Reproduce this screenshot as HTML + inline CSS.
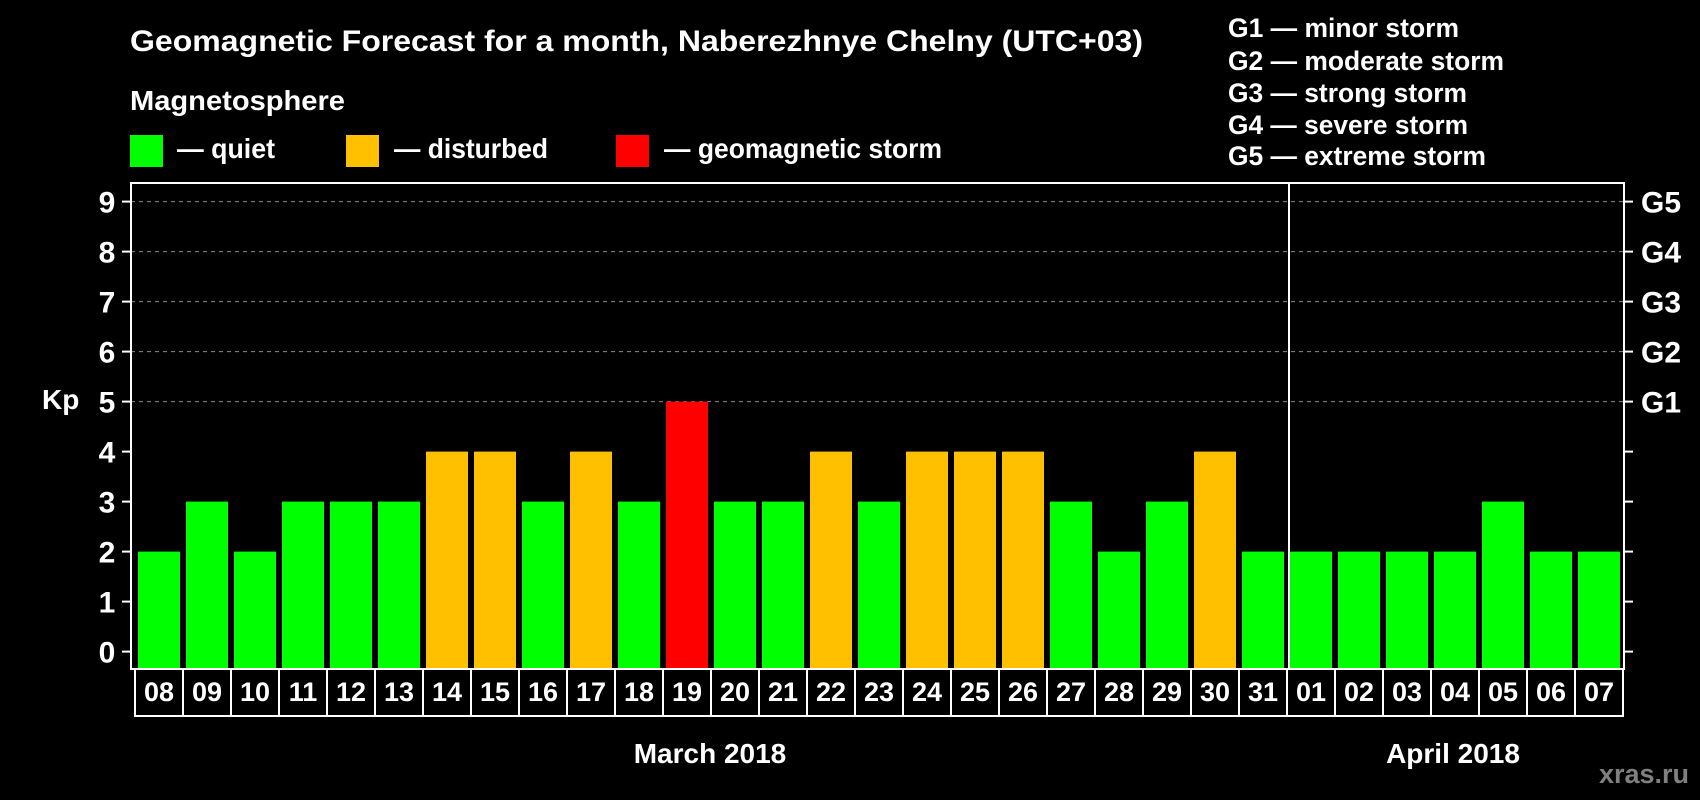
<!DOCTYPE html>
<html><head><meta charset="utf-8"><style>
html,body{margin:0;padding:0;background:#000;}
svg{display:block;font-family:"Liberation Sans",Arial,sans-serif;font-weight:bold;}
</style></head><body>
<svg id="chart" width="1700" height="800" viewBox="0 0 1700 800" xmlns="http://www.w3.org/2000/svg">
<rect x="0" y="0" width="1700" height="800" fill="#000"/>
<text x="130" y="51" fill="#fff" font-size="30" textLength="1013" lengthAdjust="spacingAndGlyphs">Geomagnetic Forecast for a month, Naberezhnye Chelny (UTC+03)</text>
<text x="130" y="110" fill="#fff" font-size="28" textLength="215" lengthAdjust="spacingAndGlyphs">Magnetosphere</text>
<g>
<rect x="130" y="135" width="33" height="32" fill="#00ff00"/>
<text x="177" y="158" fill="#fff" font-size="28" textLength="98" lengthAdjust="spacingAndGlyphs">— quiet</text></g>
<g>
<rect x="346" y="135" width="33" height="32" fill="#ffc000"/>
<text x="394" y="158" fill="#fff" font-size="28" textLength="154" lengthAdjust="spacingAndGlyphs">— disturbed</text></g>
<g>
<rect x="616" y="135" width="33" height="32" fill="#ff0000"/>
<text x="664" y="158" fill="#fff" font-size="28" textLength="278" lengthAdjust="spacingAndGlyphs">— geomagnetic storm</text></g>
<g fill="#fff" font-size="27">
<text x="1228" y="37" textLength="231" lengthAdjust="spacingAndGlyphs">G1 — minor storm</text>
<text x="1228" y="70" textLength="276" lengthAdjust="spacingAndGlyphs">G2 — moderate storm</text>
<text x="1228" y="102" textLength="239" lengthAdjust="spacingAndGlyphs">G3 — strong storm</text>
<text x="1228" y="134" textLength="240" lengthAdjust="spacingAndGlyphs">G4 — severe storm</text>
<text x="1228" y="165" textLength="258" lengthAdjust="spacingAndGlyphs">G5 — extreme storm</text>
</g>
<g id="grid"></g>
<g id="bars"></g>
<g id="axes"></g>
<g id="xlabels"></g>
<text x="42" y="409" fill="#fff" font-size="28">Kp</text>
<text x="710" y="763" fill="#fff" font-size="28" text-anchor="middle">March 2018</text>
<text x="1453" y="763" fill="#fff" font-size="28" text-anchor="middle">April 2018</text>
<text x="1689" y="783" fill="#808080" font-size="27" text-anchor="end">xras.ru</text>
</svg>
<script>
const days = ["08","09","10","11","12","13","14","15","16","17","18","19","20","21","22","23","24","25","26","27","28","29","30","31","01","02","03","04","05","06","07"];
const kpValues = [2,3,2,3,3,3,4,4,3,4,3,5,3,3,4,3,4,4,4,3,2,3,4,2,2,2,2,2,3,2,2];
const yTicks = [0,1,2,3,4,5,6,7,8,9];
const gLabels = ["G1","G2","G3","G4","G5"];
const monthBreakIndex = 24;

const NS = "http://www.w3.org/2000/svg";
const L = 131, R = 1624, T = 183, B = 669;
const y0 = 651.6, unit = 50;
const x0 = 135, pitch = 48, barW = 42;
function yScale(v){ return y0 - v*unit; }
function xScale(i){ return x0 + i*pitch; }
function mk(tag, attrs, parent){ const e=document.createElementNS(NS,tag); for(const k in attrs) e.setAttribute(k,attrs[k]); parent.appendChild(e); return e; }
function color(v){ return v>=5 ? "#ff0000" : (v>=4 ? "#ffc000" : "#00ff00"); }

const grid = document.getElementById("grid");
const axes = document.getElementById("axes");
const bars = document.getElementById("bars");
const xl = document.getElementById("xlabels");

yTicks.forEach(t=>{
  const y = yScale(t);
  if (t>=5){
    const g = mk("line",{x1:L,x2:R,y1:y,y2:y,stroke:"#8a8a8a","stroke-width":1,"stroke-dasharray":"4,4"},grid);
    
    
  }
  const tl = mk("line",{x1:122,x2:L,y1:y,y2:y,stroke:"#fff","stroke-width":2},axes);
  
  
  const tr = mk("line",{x1:R,x2:1633,y1:y,y2:y,stroke:"#fff","stroke-width":2},axes);
  
  
  const lab = mk("text",{x:107,y:y+11,fill:"#fff","font-size":30,"text-anchor":"middle"},axes);
  lab.textContent = t;
  
  
});
gLabels.forEach((g,i)=>{
  const y = yScale(5+i);
  const lab = mk("text",{x:1641,y:y+11,fill:"#fff","font-size":30},axes);
  lab.textContent = g;
  
  
});

kpValues.forEach((v,i)=>{
  const x = xScale(i)+3;
  const r = mk("rect",{x:x,y:yScale(v),width:barW,height:B-yScale(v),fill:color(v)},bars);
  
  
});

const frame = mk("rect",{x:L,y:T,width:R-L,height:B-T,fill:"none",stroke:"#fff","stroke-width":2},axes);


const div = mk("line",{x1:xScale(monthBreakIndex)+2,x2:xScale(monthBreakIndex)+2,y1:T,y2:B,stroke:"#fff","stroke-width":2},axes);



days.forEach((d,i)=>{
  const x = xScale(i);
  const box = mk("rect",{x:x,y:B,width:pitch,height:47,fill:"none",stroke:"#fff","stroke-width":2},xl);
  
  
  const t = mk("text",{x:x+pitch/2,y:701,fill:"#fff","font-size":27,"text-anchor":"middle"},xl);
  t.textContent = d;
  
  
});
</script>
</body></html>
